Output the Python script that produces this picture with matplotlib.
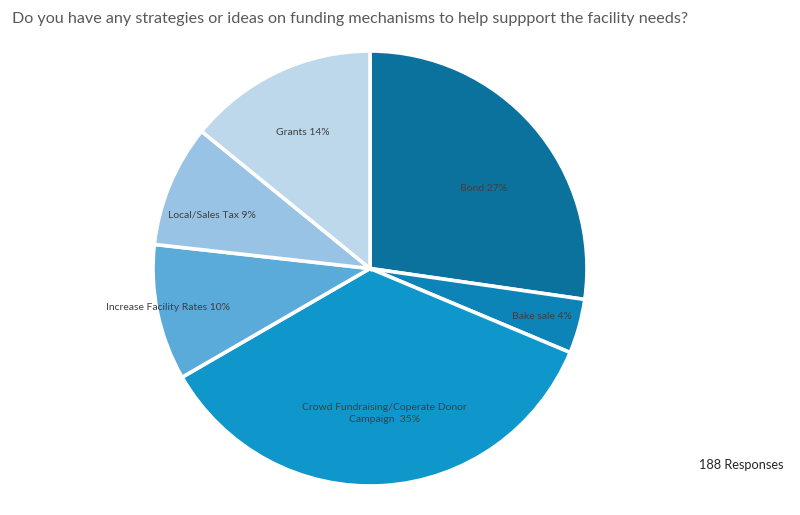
import matplotlib
matplotlib.use("Agg")
import matplotlib.pyplot as plt
import numpy as np

categories = ["Bond", "Bake sale", "Crowd Fundraising/Coperate Donor\nCampaign ", "Increase Facility Rates",
              "Local/Sales Tax", "Grants"]
values = [27, 4, 35, 10, 9, 14]
colors = ["#0a729d", "#0c84b7", "#0f97cc", "#5aabd9", "#98c3e4", "#bdd7eb"]
label_radius = [0.64, 0.82, 0.67, 0.95, 0.77, 0.70]
label_angle_shift = [-6, 0, 2, -1, 4, 1]
title = "Do you have any strategies or ideas on funding mechanisms to help suppport the facility needs?"
note = "188 Responses"

plt.rcParams['font.family'] = ['Lato', 'DejaVu Sans']

fig = plt.figure(figsize=(8, 5.15), dpi=100)
ax = fig.add_axes([153/800, (515-486)/515, 434/800, 435/515])
wedges, _ = ax.pie(values, colors=colors, startangle=90, counterclock=False,
                   wedgeprops=dict(edgecolor="white", linewidth=2.6))
ax.set_xlim(-1, 1)
ax.set_ylim(-1, 1)
ax.set_aspect('auto')
ax.axis('off')

for w, cat, v, r, s in zip(wedges, categories, values, label_radius, label_angle_shift):
    mid = np.deg2rad((w.theta1 + w.theta2) / 2 + s)
    ax.text(r*np.cos(mid), r*np.sin(mid), f"{cat} {v}%", ha="center", va="center",
            fontsize=7.5, color="#404040", linespacing=1.4)

fig.text(12/800, 1 - 19/515, title, ha="left", va="center", fontsize=11.6, color="#595959")
fig.text(699/800, 1 - 465/515, note, ha="left", va="center", fontsize=9.2, color="#262626")

fig.savefig("out.png", dpi=100)
